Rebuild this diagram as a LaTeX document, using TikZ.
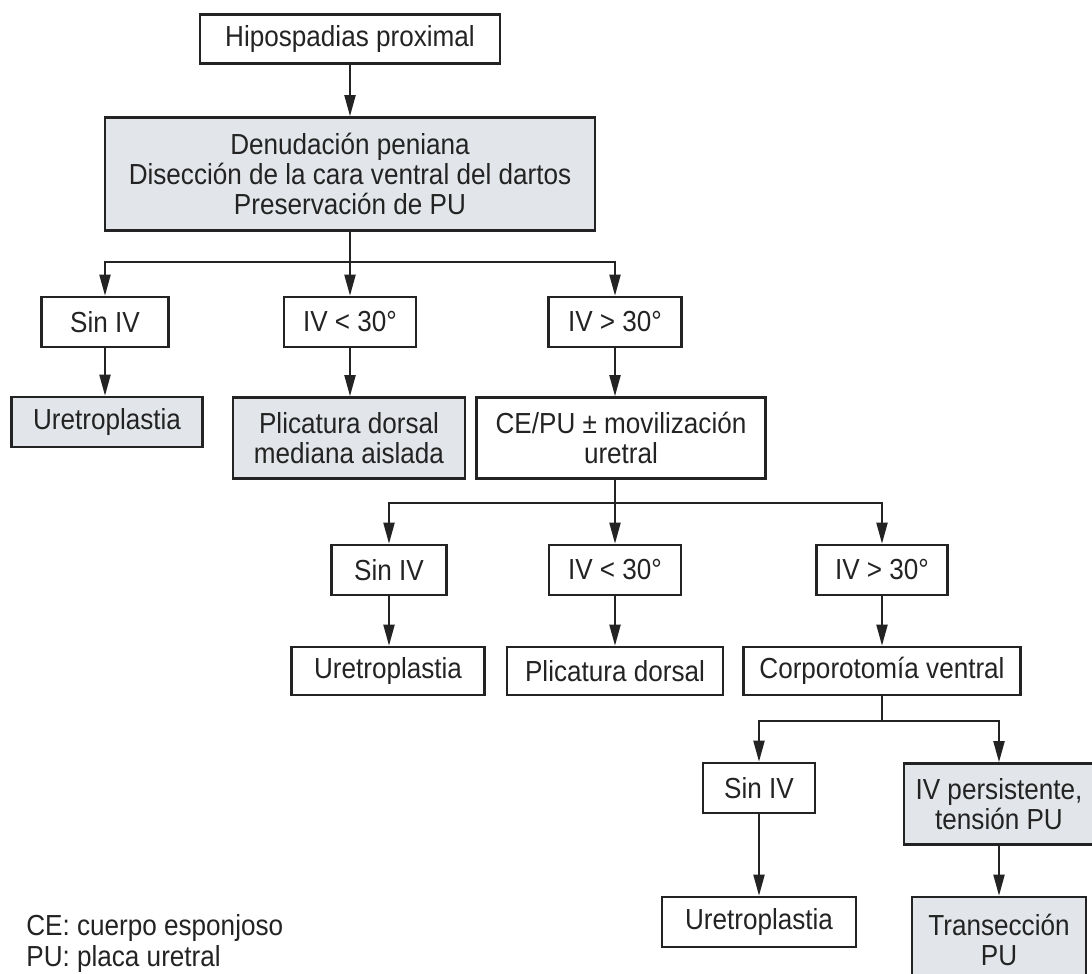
\documentclass[tikz,border=0pt]{standalone}
\usepackage{fontspec}
\setmainfont[FakeStretch=0.9]{Liberation Sans}
\usetikzlibrary{arrows.meta}

\definecolor{boxgray}{RGB}{226,229,233}
\definecolor{inkgray}{RGB}{35,35,35}

\tikzset{every picture/.style={line width=0.75pt}}
\tikzset{
  box/.style={draw=inkgray, line width=2.6pt, text=inkgray, align=center, inner sep=0pt,
    font=\fontsize{29}{30}\selectfont},
  shaded/.style={box, fill=boxgray},
  link/.style={draw=inkgray, line width=2pt},
  arrow/.style={link, -{Triangle[length=21pt,width=11pt]}},
}

\begin{document}
\begin{tikzpicture}[x=1pt,y=1pt,yscale=-1,xscale=1]
\clip (0,0) rectangle (1092,974);

%Shape: Rectangle
\node[box, minimum width=300pt, minimum height=49pt] (hip) at (350,39) {Hipospadias proximal};
%Shape: Rectangle
\node[shaded, minimum width=490pt, minimum height=113pt] (den) at (350,174)
  {Denudación peniana\\Disección de la cara ventral del dartos\\Preservación de PU};

%Shape: Rectangle
\node[box, minimum width=127pt, minimum height=50pt] (sin1) at (105,322) {Sin IV};
\node[box, minimum width=132pt, minimum height=50pt] (lt1) at (350,322) {IV < 30°};
\node[box, minimum width=133pt, minimum height=50pt] (gt1) at (615,322) {IV > 30°};

%Shape: Rectangle
\node[shaded, minimum width=191pt, minimum height=50pt] (ure1) at (107,422) {Uretroplastia};
\node[shaded, minimum width=232pt, minimum height=81pt] (pli1) at (349,438) {Plicatura dorsal\\mediana aislada};
\node[box, minimum width=289pt, minimum height=81pt] (ce) at (621,438) {CE/PU ± movilización\\uretral};

%Shape: Rectangle
\node[box, minimum width=115pt, minimum height=50pt] (sin2) at (389,570) {Sin IV};
\node[box, minimum width=132pt, minimum height=50pt] (lt2) at (615,570) {IV < 30°};
\node[box, minimum width=131pt, minimum height=50pt] (gt2) at (882,570) {IV > 30°};

%Shape: Rectangle
\node[box, minimum width=193pt, minimum height=48pt] (ure2) at (388,671) {Uretroplastia};
\node[box, minimum width=216pt, minimum height=48pt] (pli2) at (615,671) {Plicatura dorsal};
\node[box, minimum width=277pt, minimum height=48pt] (cor) at (882,671) {Corporotomía ventral};

%Shape: Rectangle
\node[box, minimum width=112pt, minimum height=50pt] (sin3) at (759,788) {Sin IV};
\node[shaded, minimum width=190pt, minimum height=81pt] (ivp) at (999,804) {IV persistente,\\tensión PU};
\node[box, minimum width=194pt, minimum height=50pt] (ure3) at (759,922) {Uretroplastia};
\node[shaded, minimum width=174pt, minimum height=86pt] (tra) at (999,940) {Transección\\PU};

%Text
\node[anchor=north west, align=left, inner sep=0pt, text=inkgray,
  font=\fontsize{29}{31}\selectfont] (legend) at (26,914) {CE: cuerpo esponjoso\\PU: placa uretral};

%Straight Lines
\draw[arrow] (hip.south) -- (den.north);
\coordinate (j1) at (350,262);
\draw[link] (den.south) -- (j1);
\draw[arrow] (j1) -| (sin1.north);
\draw[arrow] (j1) -- (lt1.north);
\draw[arrow] (j1) -| (gt1.north);

%Straight Lines
\draw[arrow] (sin1.south) -- (sin1.south |- ure1.north);
\draw[arrow] (lt1.south) -- (lt1.south |- pli1.north);
\draw[arrow] (gt1.south) -- (gt1.south |- ce.north);

%Straight Lines
\coordinate (j2) at (615,503);
\draw[link] (ce.south -| j2) -- (j2);
\draw[arrow] (j2) -| (sin2.north);
\draw[arrow] (j2) -- (lt2.north);
\draw[arrow] (j2) -| (gt2.north);

%Straight Lines
\draw[arrow] (sin2.south) -- (sin2.south |- ure2.north);
\draw[arrow] (lt2.south) -- (lt2.south |- pli2.north);
\draw[arrow] (gt2.south) -- (gt2.south |- cor.north);

%Straight Lines
\coordinate (j3) at (882,721);
\draw[link] (cor.south -| j3) -- (j3);
\draw[arrow] (j3) -| (sin3.north);
\draw[arrow] (j3) -| (ivp.north);
\draw[arrow] (sin3.south) -- (sin3.south |- ure3.north);
\draw[arrow] (ivp.south) -- (ivp.south |- tra.north);
\end{tikzpicture}
\end{document}
